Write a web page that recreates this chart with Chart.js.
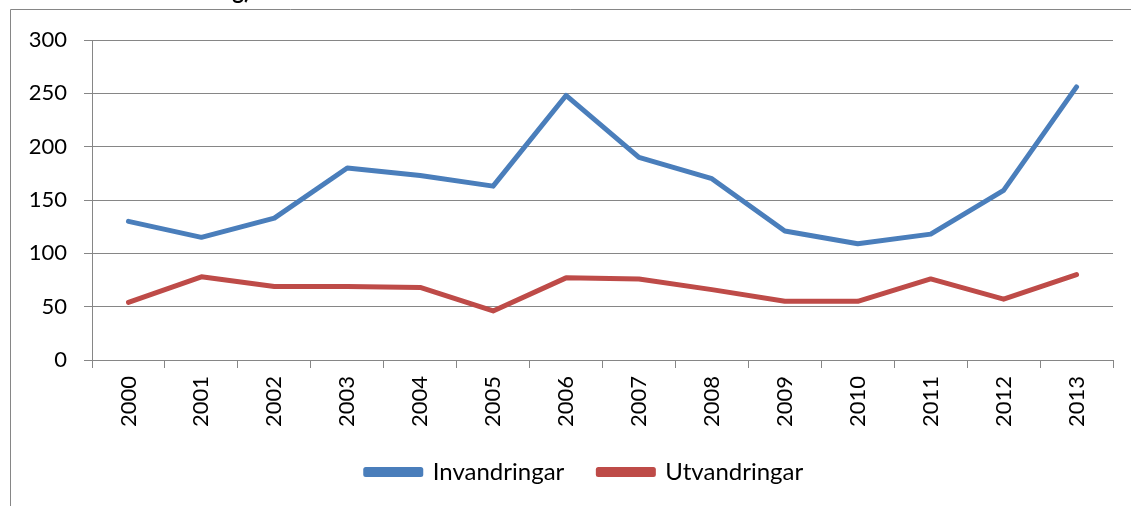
<!DOCTYPE html>
<html>
<head>
<meta charset="utf-8">
<script src="https://cdn.jsdelivr.net/npm/chart.js@4.4.1/dist/chart.umd.min.js"></script>
<style>
  html, body { margin: 0; padding: 0; background: #fff; }
  #wrap { position: relative; width: 1131px; height: 506px; }
</style>
</head>
<body>
<div id="wrap"><canvas id="migrationChart"></canvas></div>
<script>
// data
const years = ['2000', '2001', '2002', '2003', '2004', '2005', '2006',
               '2007', '2008', '2009', '2010', '2011', '2012', '2013'];
const invandringar = [130, 115, 133, 180, 173, 163, 248, 190, 170, 121, 109, 118, 159, 256];
const utvandringar = [54, 78, 69, 69, 68, 46, 77, 76, 66, 55, 55, 76, 57, 80];
const yTicks = [0, 50, 100, 150, 200, 250, 300];

const gray = '#868686';
const fontFamily = 'Lato, "Open Sans", sans-serif';

// outer frame of the embedded chart + the cut-off heading above it
const framePlugin = {
  id: 'frame',
  afterLayout(chart) {
    // legend in the original sits a bit right of the canvas centre
    chart.legend.left += 28;
    chart.legend.right += 28;
  },
  afterDraw(chart) {
    const ctx = chart.ctx;
    ctx.save();
    ctx.strokeStyle = gray;
    ctx.lineWidth = 1;
    ctx.beginPath();
    ctx.moveTo(10.5, 506);
    ctx.lineTo(10.5, 9.5);
    ctx.lineTo(1131, 9.5);
    ctx.stroke();
    ctx.fillStyle = '#000';
    ctx.font = 'bold 22px ' + fontFamily;
    ctx.textAlign = 'right';
    ctx.textBaseline = 'alphabetic';
    ctx.fillText('In- och utvandring)', 250, -1);
    ctx.restore();
  }
};

new Chart(document.getElementById('migrationChart'), {
  type: 'line',
  data: {
    labels: years,
    datasets: [{
      label: 'Invandringar',
      data: invandringar,
      borderColor: '#4A7EBB',
      backgroundColor: '#4A7EBB',
      borderWidth: 5,
      pointRadius: 0,
      tension: 0,
      borderCapStyle: 'round',
      borderJoinStyle: 'round'
    }, {
      label: 'Utvandringar',
      data: utvandringar,
      borderColor: '#BE4B48',
      backgroundColor: '#BE4B48',
      borderWidth: 5,
      pointRadius: 0,
      tension: 0,
      borderCapStyle: 'round',
      borderJoinStyle: 'round'
    }]
  },
  options: {
    responsive: true,
    maintainAspectRatio: false,
    animation: false,
    devicePixelRatio: 1,
    layout: { padding: { left: 0, top: 40, right: 18, bottom: 12 } },
    plugins: {
      tooltip: { enabled: false },
      legend: {
        position: 'bottom',
        labels: {
          boxWidth: 55,
          boxHeight: 5,
          padding: 34,
          color: '#000',
          font: { family: fontFamily, size: 24 }
        }
      }
    },
    scales: {
      x: {
        offset: true,
        grid: {
          offset: true,
          drawOnChartArea: false,
          drawTicks: true,
          tickLength: 8,
          color: gray
        },
        border: { display: true, color: gray },
        ticks: {
          color: '#000',
          minRotation: 90,
          maxRotation: 90,
          padding: 8,
          font: { family: fontFamily, size: 22 }
        },
        afterFit(scale) { scale.height = 66; }
      },
      y: {
        min: 0,
        max: 300,
        afterBuildTicks(scale) { scale.ticks = yTicks.map(v => ({ value: v })); },
        grid: { color: gray, tickLength: 8, lineWidth: 1 },
        border: { display: true, color: gray },
        ticks: {
          color: '#000',
          padding: 17,
          font: { family: fontFamily, size: 22 }
        },
        afterFit(scale) { scale.width = 92; }
      }
    }
  },
  plugins: [framePlugin]
});
</script>
</body>
</html>
